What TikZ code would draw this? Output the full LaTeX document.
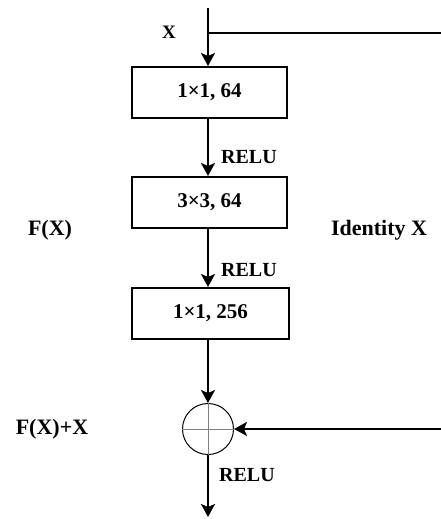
\documentclass[tikz,border=0pt]{standalone}
\usepackage{fontspec}
\setmainfont{Liberation Serif}
\usetikzlibrary{arrows.meta}
\begin{document}
\begin{tikzpicture}[x=1pt,y=-1pt,
  conv/.style={draw,line width=2pt,minimum width=155pt,minimum height=51pt,inner sep=0pt,
    font=\fontsize{21}{24}\selectfont\bfseries},
  lbl/.style={inner sep=0pt,font=\fontsize{22}{26}\selectfont\bfseries},
  relu/.style={inner sep=0pt,anchor=west,font=\fontsize{20}{24}\selectfont\bfseries},
  flow/.style={line width=2pt,-{Stealth[length=13pt,width=14pt,inset=3pt]}},
  wire/.style={line width=2pt}]
\useasboundingbox (0,0) rectangle (440,519);
\coordinate (top) at (208,8);
\coordinate (br) at (208,33.5);
\coordinate (brR) at (441,33.5);
\coordinate (inR) at (441,429);
\coordinate (out) at (208,517);
\node[conv] (b1) at (209.5,92.5) {1×1, 64};
\node[conv] (b2) at (209.5,202.5) {3×3, 64};
\node[conv,minimum width=157pt] (b3) at (210.5,313.5) {1×1, 256};
\node[draw,circle,line width=1pt,minimum size=51pt,inner sep=0pt] (c) at (208,429) {};
\draw[gray,line width=0.8pt] (c.north) -- (c.south) (c.west) -- (c.east);
\draw[flow] (top) -- (top |- b1.north);
\draw[wire] (br) -- (brR);
\draw[flow] (b1.south -| top) -- (top |- b2.north);
\draw[flow] (b2.south -| top) -- (top |- b3.north);
\draw[flow] (b3.south -| top) -- (c.north);
\draw[flow] (inR) -- (c.east);
\draw[flow] (c.south) -- (out);
\node[lbl,font=\fontsize{19}{22}\selectfont\bfseries] (lx) at (169,32) {X};
\node[lbl] (lf) at (50,230) {F(X)};
\node[lbl] (li) at (379,230) {Identity X};
\node[lbl] (lfx) at (52,429) {F(X)+X};
\node[relu] (r1) at (221,157) {RELU};
\node[relu] (r2) at (221,270) {RELU};
\node[relu] (r3) at (219,475.5) {RELU};
\end{tikzpicture}
\end{document}
